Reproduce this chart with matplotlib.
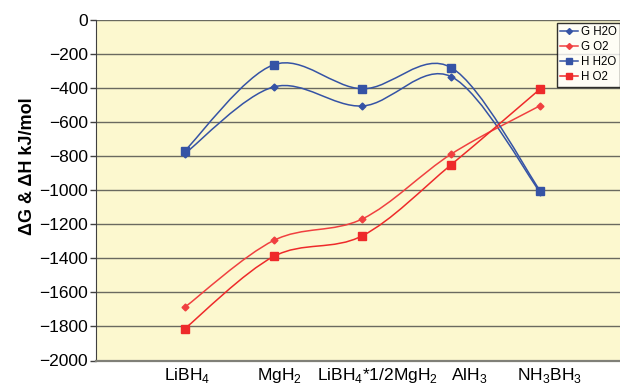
import numpy as np
import matplotlib
matplotlib.use('Agg')
import matplotlib.pyplot as plt
from matplotlib.path import Path
from matplotlib.patches import PathPatch
from matplotlib.lines import Line2D

plt.rcParams['font.family'] = ['Liberation Sans', 'DejaVu Sans']

# categories (x position 1..5 on a 0..6 scatter axis)
compuestos = ['LiBH$_\\mathregular{4}$', 'MgH$_\\mathregular{2}$',
              'LiBH$_\\mathregular{4}$*1/2MgH$_\\mathregular{2}$',
              'AlH$_\\mathregular{3}$', 'NH$_\\mathregular{3}$BH$_\\mathregular{3}$']
xcat = [1, 2, 3, 4, 5]

g_h2o = [-785, -393, -505, -333, -1012]
g_o2 = [-1687, -1295, -1168, -787, -503]
h_h2o = [-768, -263, -404, -280, -1003]
h_o2 = [-1813, -1389, -1267, -849, -405]

azul = '#3553A5'
rojo = '#EE2a2a'
rojo_claro = '#F04040'


def curva_suave(ax, x, y, color):
    # bezier smoothing like the spreadsheet "smoothed line"
    p = np.column_stack([x, y]).astype(float)
    n = len(p)
    verts = [p[0]]
    codes = [Path.MOVETO]
    for i in range(n - 1):
        p0 = p[i - 1] if i > 0 else p[i]
        p3 = p[i + 2] if i + 2 < n else p[i + 1]
        c1 = p[i] + (p[i + 1] - p0) / 6.0
        c2 = p[i + 1] - (p3 - p[i]) / 6.0
        verts += [c1, c2, p[i + 1]]
        codes += [Path.CURVE4] * 3
    ax.add_patch(PathPatch(Path(verts, codes), fill=False, edgecolor=color, lw=1.1, zorder=3))


fig = plt.figure(figsize=(6.2, 3.87), dpi=100)
ax = fig.add_axes([96 / 620, 26.5 / 387, 533 / 620, 340.5 / 387])
ax.set_facecolor('#FCF8CF')

series = [(g_h2o, azul, 'D', 3.5, 'G H2O'),
          (g_o2, rojo_claro, 'D', 3.5, 'G O2'),
          (h_h2o, azul, 's', 5.5, 'H H2O'),
          (h_o2, rojo, 's', 5.5, 'H O2')]
handles = []
for vals, c, m, ms, lab in series:
    curva_suave(ax, xcat, vals, c)
    ax.plot(xcat, vals, ls='none', marker=m, ms=ms, color=c, zorder=4)
    handles.append(Line2D([], [], color=c, marker=m, ms=ms - 0.5, lw=1.1, label=lab))

ax.set_xlim(0, 6)
ax.set_ylim(-2000, 0)
ax.set_yticks(np.arange(-2000, 1, 200))
ax.set_xticks([])
ax.yaxis.grid(True, color='#6a6a60', lw=1)
ax.set_axisbelow(True)
ax.tick_params(axis='y', direction='out', length=4, width=1, color='#404040',
               labelsize=12.5, pad=2)
ax.spines['top'].set_visible(False)
ax.spines['right'].set_visible(False)
ax.spines['left'].set_color('#404040')
ax.spines['bottom'].set_color('#808078')
ax.spines['bottom'].set_linewidth(1.6)

# category labels placed by hand as in the original
pos_etiquetas = [0.77, 1.815, 2.49, 4.0, 4.735]
for px, t in zip(pos_etiquetas, compuestos):
    ax.text(px, -0.016, t, transform=ax.get_xaxis_transform(), ha='left', va='top',
            fontsize=12.5, clip_on=False)

fig.text(28 / 620, 1 - 166 / 387, '\u0394G & \u0394H kJ/mol', rotation=90,
         ha='center', va='center', fontsize=13, fontweight='bold')

leg = fig.legend(handles=handles, loc='upper left', bbox_to_anchor=(557 / 620, 1 - 23 / 387),
                 fontsize=8.3, frameon=True, fancybox=False, edgecolor='black',
                 handlelength=1.5, handletextpad=0.25, borderpad=0.3, labelspacing=0.25,
                 borderaxespad=0)
leg.get_frame().set_linewidth(1)

fig.savefig('out.png', dpi=100)
